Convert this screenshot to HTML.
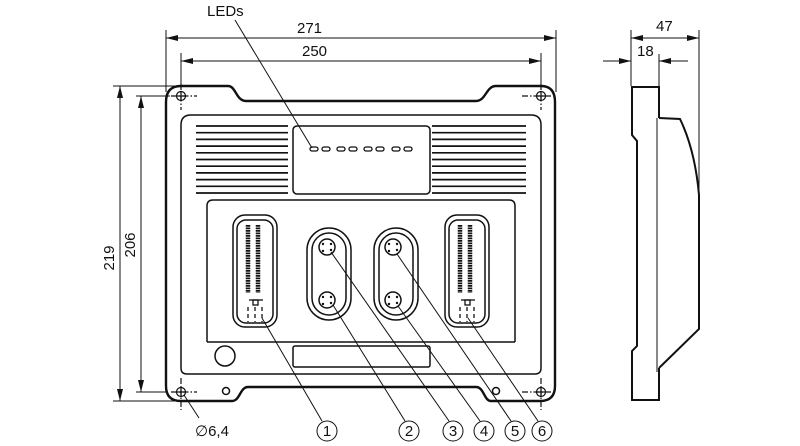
<!DOCTYPE html>
<html><head><meta charset="utf-8"><style>
html,body{margin:0;padding:0;background:#fff;}
svg{display:block;}
text{font-family:"Liberation Sans",sans-serif;font-size:15px;fill:#111;}
</style></head><body>
<svg width="800" height="446" viewBox="0 0 800 446" xmlns="http://www.w3.org/2000/svg">
<defs>
<marker id="a" viewBox="0 0 12 6" refX="12" refY="3" markerWidth="12" markerHeight="6" orient="auto-start-reverse" markerUnits="userSpaceOnUse"><path d="M0,0 L12,3 L0,6 z" fill="#111"/></marker>
</defs>
<g fill="none" stroke="#111" stroke-width="1">
<line x1="166" y1="30" x2="166" y2="92"/>
<line x1="556" y1="30" x2="556" y2="92"/>
<line x1="181" y1="53" x2="181" y2="90"/>
<line x1="541" y1="53" x2="541" y2="90"/>
<line x1="166" y1="38" x2="556" y2="38" marker-start="url(#a)" marker-end="url(#a)"/>
<line x1="181" y1="61" x2="541" y2="61" marker-start="url(#a)" marker-end="url(#a)"/>
<line x1="113" y1="86" x2="180" y2="86"/>
<line x1="136" y1="96" x2="170" y2="96"/>
<line x1="113" y1="401" x2="180" y2="401"/>
<line x1="136" y1="392" x2="166" y2="392"/>
<line x1="120" y1="86" x2="120" y2="401" marker-start="url(#a)" marker-end="url(#a)"/>
<line x1="141" y1="96" x2="141" y2="392" marker-start="url(#a)" marker-end="url(#a)"/>
</g>
<text x="302" y="56">250</text>
<text x="297" y="33">271</text>
<text transform="translate(114,258) rotate(-90)" text-anchor="middle">219</text>
<text transform="translate(135,245) rotate(-90)" text-anchor="middle">206</text>
<text x="207" y="16">LEDs</text>

<path d="M181,86 L228,86 C236,86 236,101 246,101 L476,101 C486,101 486,86 496,86 L541,86 Q555,86 555,102 L555,386 Q555,401 540,401 L491,401 C484,401 484,387 476,387 L248,387 C240,387 240,401 232,401 L181,401 Q166,401 166,386 L166,102 Q166,86 181,86 Z" fill="none" stroke="#111" stroke-width="2.4"/>
<g fill="none" stroke="#111" stroke-width="1.5">
<path d="M181,125 Q181,115 191,115 L531,115 Q541,115 541,125 L541,368 Q541,374 535,374 L187,374 Q181,374 181,368 Z"/>
<rect x="293" y="126" width="137" height="68" rx="4"/>
<path d="M207,342 L207,206 Q207,200 213,200 L509,200 Q515,200 515,206 L515,342"/>
<line x1="207" y1="342" x2="515" y2="342"/>
<circle cx="225" cy="356" r="10"/>
<rect x="293" y="346" width="137" height="21" rx="2"/>
<circle cx="226" cy="391" r="3.5"/>
<circle cx="496" cy="391" r="3.5"/>
</g>
<g stroke="#111" stroke-width="1.7">
<line x1="196" y1="126" x2="288" y2="126"/><line x1="196" y1="132.7" x2="288" y2="132.7"/><line x1="196" y1="139.4" x2="288" y2="139.4"/><line x1="196" y1="146.1" x2="288" y2="146.1"/><line x1="196" y1="152.8" x2="288" y2="152.8"/><line x1="196" y1="159.5" x2="288" y2="159.5"/><line x1="196" y1="166.2" x2="288" y2="166.2"/><line x1="196" y1="172.9" x2="288" y2="172.9"/><line x1="196" y1="179.6" x2="288" y2="179.6"/><line x1="196" y1="186.3" x2="288" y2="186.3"/><line x1="196" y1="193" x2="288" y2="193"/>
<line x1="432" y1="126" x2="526" y2="126"/><line x1="432" y1="132.7" x2="526" y2="132.7"/><line x1="432" y1="139.4" x2="526" y2="139.4"/><line x1="432" y1="146.1" x2="526" y2="146.1"/><line x1="432" y1="152.8" x2="526" y2="152.8"/><line x1="432" y1="159.5" x2="526" y2="159.5"/><line x1="432" y1="166.2" x2="526" y2="166.2"/><line x1="432" y1="172.9" x2="526" y2="172.9"/><line x1="432" y1="179.6" x2="526" y2="179.6"/><line x1="432" y1="186.3" x2="526" y2="186.3"/><line x1="432" y1="193" x2="526" y2="193"/>
</g>
<g fill="none" stroke="#111" stroke-width="1.3">
<rect x="310" y="147" width="8" height="4" rx="2"/><rect x="322" y="147" width="8" height="4" rx="2"/>
<rect x="337" y="147" width="8" height="4" rx="2"/><rect x="349" y="147" width="8" height="4" rx="2"/>
<rect x="364" y="147" width="8" height="4" rx="2"/><rect x="376" y="147" width="8" height="4" rx="2"/>
<rect x="392" y="147" width="8" height="4" rx="2"/><rect x="404" y="147" width="8" height="4" rx="2"/>
</g>
<g fill="none" stroke="#111" stroke-width="1.5">
<rect x="233" y="215" width="44" height="112" rx="12"/><rect x="237" y="220" width="36" height="103" rx="9"/>
<rect x="445" y="215" width="44" height="112" rx="12"/><rect x="449" y="220" width="36" height="103" rx="9"/>
<rect x="307" y="228" width="44" height="92" rx="22"/><rect x="312" y="233" width="34" height="82" rx="17"/>
<rect x="374" y="228" width="44" height="92" rx="22"/><rect x="379" y="233" width="34" height="82" rx="17"/>
<circle cx="327" cy="247" r="8"/><circle cx="327" cy="300" r="8"/>
<circle cx="393" cy="247" r="8"/><circle cx="393" cy="300" r="8"/>
</g>
<g fill="#111">
<circle cx="323" cy="244" r="1.2"/><circle cx="331" cy="244" r="1.2"/><circle cx="323" cy="251" r="1.2"/><circle cx="331" cy="250" r="1.2"/>
<circle cx="323" cy="297" r="1.2"/><circle cx="331" cy="297" r="1.2"/><circle cx="323" cy="304" r="1.2"/><circle cx="331" cy="303" r="1.2"/>
<circle cx="389" cy="244" r="1.2"/><circle cx="397" cy="244" r="1.2"/><circle cx="389" cy="251" r="1.2"/><circle cx="397" cy="250" r="1.2"/>
<circle cx="389" cy="297" r="1.2"/><circle cx="397" cy="297" r="1.2"/><circle cx="389" cy="304" r="1.2"/><circle cx="397" cy="303" r="1.2"/>
</g>
<g stroke="#111" stroke-width="4.5" stroke-dasharray="1.8 0.7">
<line x1="248" y1="225" x2="248" y2="293"/><line x1="258" y1="225" x2="258" y2="293"/>
<line x1="460" y1="225" x2="460" y2="293"/><line x1="470" y1="225" x2="470" y2="293"/>
</g>
<g stroke="#111" stroke-width="1.3" fill="none">
<rect x="253" y="300" width="5" height="5"/><line x1="249" y1="300" x2="263" y2="300"/>
<line x1="248" y1="307" x2="248" y2="322" stroke-dasharray="4 3"/><line x1="262" y1="307" x2="262" y2="322" stroke-dasharray="4 3"/><line x1="255" y1="307" x2="255" y2="322" stroke-dasharray="4 3"/>
<rect x="465" y="300" width="5" height="5"/><line x1="461" y1="300" x2="475" y2="300"/>
<line x1="460" y1="307" x2="460" y2="322" stroke-dasharray="4 3"/><line x1="474" y1="307" x2="474" y2="322" stroke-dasharray="4 3"/><line x1="467" y1="307" x2="467" y2="322" stroke-dasharray="4 3"/>
</g>
<g stroke="#111" fill="none" stroke-width="1.2">
<circle cx="181" cy="96" r="4.5"/><circle cx="541" cy="96" r="4.5"/><circle cx="181" cy="392" r="4.5"/><circle cx="541" cy="392" r="4.5"/>
<g stroke-dasharray="6 2 1.5 2">
<line x1="171" y1="96" x2="197" y2="96"/><line x1="181" y1="84" x2="181" y2="110"/>
<line x1="522" y1="96" x2="551" y2="96"/><line x1="541" y1="84" x2="541" y2="110"/>
<line x1="171" y1="392" x2="197" y2="392"/><line x1="181" y1="378" x2="181" y2="410"/>
<line x1="522" y1="392" x2="551" y2="392"/><line x1="541" y1="378" x2="541" y2="410"/>
</g>
<line x1="176" y1="96" x2="186" y2="96"/><line x1="181" y1="91" x2="181" y2="101"/>
<line x1="536" y1="96" x2="546" y2="96"/><line x1="541" y1="91" x2="541" y2="101"/>
<line x1="176" y1="392" x2="186" y2="392"/><line x1="181" y1="387" x2="181" y2="397"/>
<line x1="536" y1="392" x2="546" y2="392"/><line x1="541" y1="387" x2="541" y2="397"/>
</g>
<g stroke="#111" stroke-width="1" fill="none">
<line x1="235" y1="20" x2="312" y2="148"/>
<line x1="184" y1="395" x2="199" y2="418"/>
<line x1="262" y1="318" x2="322" y2="421"/>
<line x1="333" y1="305" x2="405" y2="421"/>
<line x1="331" y1="252" x2="449" y2="421"/>
<line x1="398" y1="306" x2="480" y2="421"/>
<line x1="397" y1="254" x2="511" y2="421"/>
<line x1="468" y1="318" x2="538" y2="421"/>
<circle cx="327" cy="431" r="10"/><circle cx="409" cy="431" r="10"/><circle cx="453" cy="431" r="10"/>
<circle cx="484" cy="431" r="10"/><circle cx="515" cy="431" r="10"/><circle cx="542" cy="431" r="10"/>
</g>
<g text-anchor="middle">
<text x="327" y="436" font-size="14">1</text><text x="409" y="436" font-size="14">2</text><text x="453" y="436" font-size="14">3</text>
<text x="484" y="436" font-size="14">4</text><text x="515" y="436" font-size="14">5</text><text x="542" y="436" font-size="14">6</text>
</g>
<text x="195" y="436">∅6,4</text>

<g fill="none" stroke="#111" stroke-width="1">
<line x1="631" y1="30" x2="631" y2="86"/>
<line x1="659" y1="54" x2="659" y2="86"/>
<line x1="699" y1="30" x2="699" y2="195"/>
<line x1="631" y1="38" x2="699" y2="38" marker-start="url(#a)" marker-end="url(#a)"/>
<line x1="603" y1="61" x2="631" y2="61" marker-end="url(#a)"/>
<line x1="688" y1="61" x2="659" y2="61" marker-end="url(#a)"/>
<line x1="657" y1="118" x2="657" y2="372"/>
</g>
<text x="656" y="31">47</text>
<text x="637" y="56">18</text>
<g fill="none" stroke="#111" stroke-width="2">
<path d="M659,118 L659,87 L632,87 L632,135 L637,141 L637,346 L632,351 L632,400 L659,400 L659,368"/>
<path d="M659,118 L680,119 Q695,150 699,195 L699,329 L659,368"/>
</g>
</svg>
</body></html>
